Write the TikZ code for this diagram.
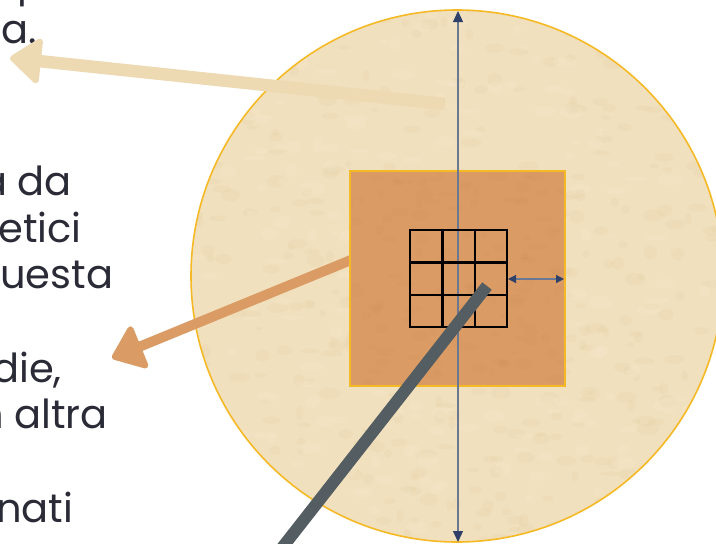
\documentclass[tikz,border=0pt]{standalone}
\usepackage{fontspec}
\setmainfont{Poppins}
\usetikzlibrary{arrows.meta}
\definecolor{txt}{HTML}{2B2B38}
\definecolor{sand}{HTML}{F1E0BD}
\definecolor{sanddark}{HTML}{D9C292}
\definecolor{sandlight}{HTML}{F8EDD6}
\definecolor{gold}{HTML}{F6B926}
\definecolor{clay}{HTML}{DA9C64}
\definecolor{claydark}{HTML}{CD8F58}
\definecolor{tanarrow}{HTML}{EDD9B2}
\definecolor{slate}{HTML}{545D61}
\definecolor{axis}{HTML}{6A7891}
\definecolor{navy}{HTML}{2F4169}
\begin{document}
\begin{tikzpicture}[x=1pt,y=-1pt,
  sidetext/.style={anchor=base west, inner sep=0pt, text=txt, font=\fontsize{40}{47}\selectfont},
  pointer/.style={-{Triangle[length=33pt,width=50pt,line width=6pt,round]}},
  axisline/.style={draw=axis, line width=1.2pt},
  gridline/.style={draw=black, line width=2.4pt}]
\useasboundingbox (0,0) rectangle (716,544);
\fill[white] (0,0) rectangle (716,544);

% sand disc
\coordinate (c) at (457,276);
\fill[sand] (c) circle (266);
\begin{scope}
  \clip (c) circle (266);
  \pgfmathsetseed{7}
  \foreach \i in {1,...,420}{
    \pgfmathsetmacro\xx{457+270*rand}
    \pgfmathsetmacro\yy{276+270*rand}
    \pgfmathsetmacro\ra{3+8*rnd}
    \pgfmathsetmacro\rb{2+5*rnd}
    \fill[sanddark, opacity=0.10] (\xx,\yy) ellipse ({\ra} and {\rb});
  }
  \foreach \i in {1,...,260}{
    \pgfmathsetmacro\xx{457+270*rand}
    \pgfmathsetmacro\yy{276+270*rand}
    \pgfmathsetmacro\ra{4+9*rnd}
    \pgfmathsetmacro\rb{2+5*rnd}
    \fill[sandlight, opacity=0.18] (\xx,\yy) ellipse ({\ra} and {\rb});
  }
\end{scope}
\draw[gold, line width=1.6pt] (c) circle (266);

% left text (clipped by the page edge)
\node[sidetext] (t0) at (17,-4) {p};
\node[sidetext] (t1) at (1.5,43) {a.};
\node[sidetext] (t2) at (-20,195) {a da};
\node[sidetext] (t3) at (-2,242) {etici};
\node[sidetext] (t4) at (0,288) {uesta};
\node[sidetext] (t5) at (-8,382) {die,};
\node[sidetext] (t6) at (-22,428) {n altra};
\node[sidetext] (t7) at (-4,522) {nati};

% pointer arrows
\coordinate (tanS) at (445,104);
\coordinate (tanT) at (10,58);
\draw[tanarrow, line width=12.5pt, pointer] (tanS) -- (tanT);

\coordinate (clayS) at (390,244);
\coordinate (clayT) at (112,358);
\draw[clay, line width=10pt, pointer] (clayS) -- (clayT);

% square
\coordinate (sqA) at (350,171);
\coordinate (sqB) at (565,386);
\fill[clay] (sqA) rectangle (sqB);
\begin{scope}
  \clip (sqA) rectangle (sqB);
  \pgfmathsetseed{11}
  \foreach \i in {1,...,120}{
    \pgfmathsetmacro\xx{457+110*rand}
    \pgfmathsetmacro\yy{278+110*rand}
    \pgfmathsetmacro\ra{3+7*rnd}
    \pgfmathsetmacro\rb{2+4*rnd}
    \fill[claydark, opacity=0.12] (\xx,\yy) ellipse ({\ra} and {\rb});
  }
\end{scope}
\draw[gold, line width=2pt] (sqA) rectangle (sqB);

% vertical axis
\coordinate (axT) at (458,11);
\coordinate (axB) at (458,542);
\draw[axisline, {Triangle[length=11pt,width=10pt,color=navy]}-{Triangle[length=11pt,width=10pt,color=navy]}] (axB) -- (axT);

% grid
\coordinate (gA) at (410,230);
\coordinate (gB) at (507,327);
\draw[gridline] (gA) rectangle (gB);
\draw[gridline] (442.3,230) -- (442.3,327) (474.7,230) -- (474.7,327)
                (410,262.3) -- (507,262.3) (410,294.7) -- (507,294.7);

% small double arrow
\coordinate (dA) at (508,279);
\coordinate (dB) at (564,279);
\draw[axisline, {Triangle[length=8pt,width=8pt,color=navy]}-{Triangle[length=8pt,width=8pt,color=navy]}] (dA) -- (dB);

% slate bar
\coordinate (slS) at (487,286);
\coordinate (slE) at (278,553);
\draw[slate, line width=12pt] (slS) -- (slE);
\end{tikzpicture}
\end{document}
